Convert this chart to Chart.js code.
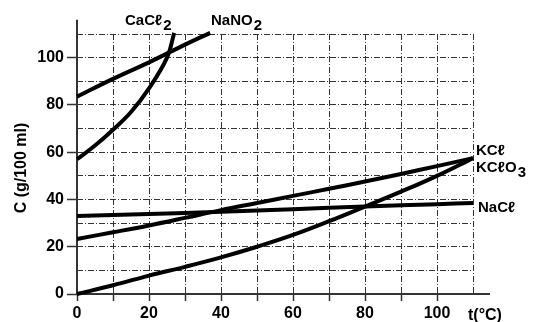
<!DOCTYPE html>
<html>
<head>
<meta charset="utf-8">
<script src="https://cdn.jsdelivr.net/npm/chart.js@4.4.0/dist/chart.umd.min.js"></script>
<style>
  html, body { margin: 0; padding: 0; background: #fff; }
</style>
</head>
<body>
<canvas id="chart" width="533" height="322"></canvas>
<script>
// solubility curves: t in °C, C in g/100 ml
const cacl2T = [0, 5, 10, 15, 20, 25, 27];
const cacl2C = [57, 62.8, 69.5, 77, 87, 100, 110.5];
const nano2T = [0, 10, 20, 30, 37];
const nano2C = [83.5, 91, 98, 105.5, 110.5];
const kclT = [0, 10, 20, 30, 40, 50, 60, 70, 80, 90, 100, 110];
const kclC = [23.3, 26.1, 29, 32.2, 35.5, 38.5, 41.5, 44.5, 47.6, 50.8, 54.1, 57.5];
const naclT = [0, 20, 40, 60, 80, 100, 110];
const naclC = [33, 33.8, 34.8, 35.9, 37, 38, 38.5];
const kclo3T = [0, 10, 20, 30, 40, 50, 60, 70, 80, 90, 100, 110];
const kclo3C = [0, 3.7, 7.8, 11.5, 15.5, 20, 25, 30.8, 37, 43.3, 50, 57.5];

const xTickLabels = [0, 20, 40, 60, 80, 100];
const yTickLabels = [0, 20, 40, 60, 80, 100];

const FONT = '"Liberation Sans", Arial, sans-serif';

function pts(t, c) {
  return t.map((v, i) => ({ x: v, y: c[i] }));
}

function curve(t, c) {
  return {
    data: pts(t, c),
    borderColor: '#000',
    borderWidth: 4,
    pointRadius: 0,
    fill: false,
    tension: 0.4,
    clip: 5,
  };
}

// text with a lowered index, e.g. CaCl2
function withSub(ctx, text, sub, x, y) {
  ctx.fillText(text, x, y);
  if (sub) {
    const w = ctx.measureText(text).width;
    ctx.fillText(sub, x + w + 1, y + 5);
  }
}

const decor = {
  id: 'decor',
  beforeDatasetsDraw(chart) {
    const { ctx, scales: { x, y } } = chart;
    const x0 = x.getPixelForValue(0);
    const y0 = y.getPixelForValue(0);
    ctx.save();
    ctx.strokeStyle = '#333';
    ctx.lineWidth = 2;
    ctx.beginPath();
    ctx.moveTo(x0, y0);
    ctx.lineTo(x.getPixelForValue(114.7), y0);
    ctx.moveTo(x0, y0);
    ctx.lineTo(x0, y.getPixelForValue(116));
    ctx.stroke();
    ctx.restore();
  },
  afterDraw(chart) {
    const { ctx } = chart;
    ctx.save();
    ctx.fillStyle = '#000';
    ctx.textBaseline = 'alphabetic';
    ctx.textAlign = 'left';
    ctx.font = 'bold 15px ' + FONT;
    withSub(ctx, 'CaCℓ', '2', 125, 25);
    withSub(ctx, 'NaNO', '2', 211, 25);
    withSub(ctx, 'KCℓ', '', 476, 155);
    withSub(ctx, 'KCℓO', '3', 476, 172);
    withSub(ctx, 'NaCℓ', '', 478, 212);

    ctx.font = 'bold 16px ' + FONT;
    ctx.fillText('t(°C)', 468, 320);

    // y axis title
    ctx.translate(26, 168);
    ctx.rotate(-Math.PI / 2);
    ctx.textAlign = 'center';
    ctx.fillText('C (g/100 ml)', 0, 0);
    ctx.restore();
  },
};

new Chart(document.getElementById('chart'), {
  type: 'line',
  data: {
    datasets: [
      curve(cacl2T, cacl2C),
      curve(nano2T, nano2C),
      curve(kclT, kclC),
      curve(naclT, naclC),
      curve(kclo3T, kclo3C),
    ],
  },
  options: {
    responsive: false,
    animation: false,
    devicePixelRatio: 1,
    layout: { padding: { top: 34, right: 60, left: 0, bottom: 0 } },
    plugins: { legend: { display: false }, tooltip: { enabled: false } },
    scales: {
      x: {
        type: 'linear',
        min: 0,
        max: 110,
        afterFit(scale) { scale.height = 28; },
        border: { display: false, dash: [6, 2, 1, 2] },
        grid: {
          color: '#333',
          lineWidth: 1,
          tickLength: 7,
          tickWidth: 1.5,
          tickColor: (c) => (c.tick && c.tick.value < 110 ? '#333' : 'transparent'),
        },
        ticks: {
          stepSize: 10,
          padding: 3,
          maxRotation: 0,
          autoSkip: false,
          color: '#000',
          font: { family: FONT, size: 16, weight: 'bold' },
          callback: (v) => (xTickLabels.includes(v) ? String(v) : ''),
        },
      },
      y: {
        min: 0,
        max: 110,
        afterFit(scale) { scale.width = 77; },
        border: { display: false, dash: [6, 2, 1, 2] },
        grid: {
          color: '#333',
          lineWidth: 1,
          tickLength: 10,
          tickWidth: 1.5,
          tickColor: (c) => (c.tick && yTickLabels.includes(c.tick.value) ? '#333' : 'transparent'),
        },
        ticks: {
          stepSize: 10,
          padding: 3,
          autoSkip: false,
          color: '#000',
          font: { family: FONT, size: 16, weight: 'bold' },
          callback: (v) => (yTickLabels.includes(v) ? String(v) : ''),
        },
      },
    },
  },
  plugins: [decor],
});
</script>
</body>
</html>
